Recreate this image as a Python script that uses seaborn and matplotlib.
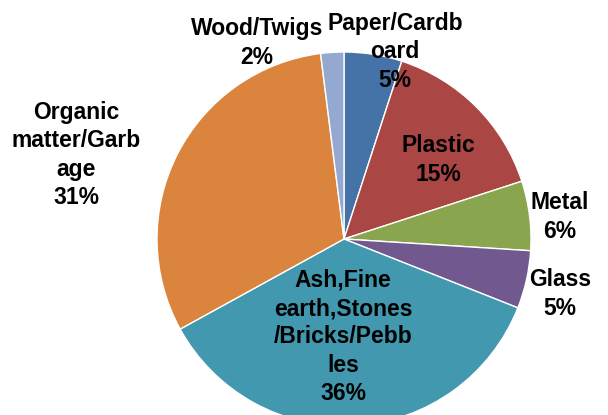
import matplotlib
matplotlib.use("Agg")
import matplotlib.pyplot as plt
import seaborn as sns

categories = ["Paper/Cardb\noard", "Plastic", "Metal", "Glass",
              "Ash,Fine\nearth,Stones\n/Bricks/Pebb\nles", "Organic\nmatter/Garb\nage", "Wood/Twigs"]
values = [5, 15, 6, 5, 36, 31, 2]
colors = ["#4572A7", "#AA4643", "#89A54E", "#71588F", "#4198AF", "#DB843D", "#93A9CF"]

# label layout (in units of pie radius, relative to centre)
label_pos = [(0.273, 1.0), (0.503, 0.422), (1.155, 0.118), (1.155, -0.294),
             (-0.005, -0.524), (-1.433, 0.449), (-0.465, 1.048)]

sns.set_style("white")
plt.rcParams['font.family'] = ['Liberation Sans', 'DejaVu Sans']

fig = plt.figure(figsize=(6.08, 4.15), dpi=100)
ax = fig.add_axes([0, 0, 1, 1])
ax.pie(values, colors=colors, startangle=90, counterclock=False, radius=1,
       wedgeprops=dict(edgecolor="white", linewidth=1.0))
ax.set_aspect("auto")
ax.set_xlim(-344/187, (608-344)/187)
ax.set_ylim((239-415)/187, 239/187)
ax.axis("off")

total = sum(values)
for cat, v, (x, y) in zip(categories, values, label_pos):
    ax.text(x, y, f"{cat}\n{round(100*v/total)}%", ha="center", va="center",
            fontsize=16.5, fontweight="bold", color="black", linespacing=1.3)

fig.savefig("out.png", dpi=100)
